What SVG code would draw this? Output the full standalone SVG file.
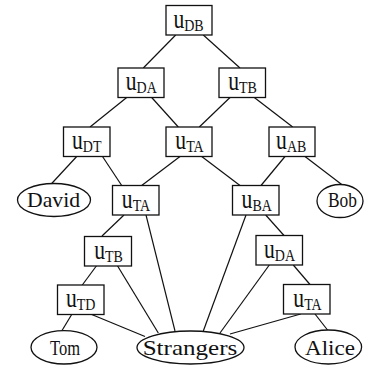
<svg xmlns="http://www.w3.org/2000/svg" width="368" height="368" viewBox="0 0 368 368">
<style>
rect.n{fill:#fff;stroke:#111;stroke-width:1.3}
ellipse.e{fill:#fff;stroke:#111;stroke-width:1.3}
.c line{stroke:#111;stroke-width:1.2}
text.u{font-family:"Liberation Serif",serif;font-size:27px;fill:#111;text-anchor:middle}
tspan.s{font-size:17.5px}
text.t{font-family:"Liberation Serif",serif;font-size:22px;fill:#111;text-anchor:middle}
</style>
<rect width="368" height="368" fill="#fff"/>
<g class="c" id="connectors">
<line x1="175.7" y1="35" x2="143.3" y2="68"/>
<line x1="203.3" y1="35" x2="240" y2="68"/>
<line x1="126.7" y1="97.5" x2="90" y2="127"/>
<line x1="151.7" y1="97.5" x2="178.3" y2="127"/>
<line x1="230" y1="97.5" x2="199.3" y2="127"/>
<line x1="254.3" y1="97.5" x2="292.7" y2="127"/>
<line x1="76.7" y1="156.5" x2="51.7" y2="183.5"/>
<line x1="102.5" y1="156.5" x2="121.7" y2="185.5"/>
<line x1="180" y1="156.5" x2="141.7" y2="185.5"/>
<line x1="201.7" y1="156.5" x2="240" y2="185.5"/>
<line x1="285" y1="156.5" x2="261" y2="185.5"/>
<line x1="305" y1="156.5" x2="341.7" y2="184.5"/>
<line x1="124" y1="215" x2="102" y2="236"/>
<line x1="146" y1="215" x2="175" y2="331"/>
<line x1="246" y1="215" x2="203.3" y2="331"/>
<line x1="265.7" y1="215" x2="284" y2="235.5"/>
<line x1="96.7" y1="265.5" x2="82.3" y2="285"/>
<line x1="117.3" y1="265.5" x2="158.3" y2="333"/>
<line x1="269.3" y1="265" x2="220" y2="333"/>
<line x1="293.3" y1="265" x2="310" y2="284.5"/>
<line x1="71.7" y1="314.5" x2="61.7" y2="331"/>
<line x1="91.7" y1="314.5" x2="145" y2="336.5"/>
<line x1="300.7" y1="314" x2="230" y2="334"/>
<line x1="315" y1="314" x2="328.3" y2="331"/>
</g>
<g id="uDB"><rect class="n" x="166" y="5.5" width="46" height="29.5"/><text class="u" transform="translate(188.5 27.5) scale(0.8 1)">u<tspan class="s" dy="3.3">DB</tspan></text></g>
<g id="uDA1"><rect class="n" x="118" y="68" width="46" height="29.5"/><text class="u" transform="translate(141.3 90) scale(0.8 1)">u<tspan class="s" dy="3.3">DA</tspan></text></g>
<g id="uTB1"><rect class="n" x="219" y="68" width="46.5" height="29.5"/><text class="u" transform="translate(242.6 90) scale(0.8 1)">u<tspan class="s" dy="3.3">TB</tspan></text></g>
<g id="uDT"><rect class="n" x="63.5" y="127" width="46.5" height="29.5"/><text class="u" transform="translate(86.7 149) scale(0.8 1)">u<tspan class="s" dy="3.3">DT</tspan></text></g>
<g id="uTA1"><rect class="n" x="166" y="127" width="46" height="29.5"/><text class="u" transform="translate(189.5 149) scale(0.8 1)">u<tspan class="s" dy="3.3">TA</tspan></text></g>
<g id="uAB"><rect class="n" x="269" y="127" width="46" height="29.5"/><text class="u" transform="translate(291.2 149) scale(0.8 1)">u<tspan class="s" dy="3.3">AB</tspan></text></g>
<g id="uTA2"><rect class="n" x="112.5" y="185.5" width="46.5" height="29.5"/><text class="u" transform="translate(136 207.5) scale(0.8 1)">u<tspan class="s" dy="3.3">TA</tspan></text></g>
<g id="uBA"><rect class="n" x="232.5" y="185.5" width="46.5" height="29.5"/><text class="u" transform="translate(256.7 207.5) scale(0.8 1)">u<tspan class="s" dy="3.3">BA</tspan></text></g>
<g id="uTB2"><rect class="n" x="84.5" y="236.5" width="47" height="29.5"/><text class="u" transform="translate(108.5 258.5) scale(0.8 1)">u<tspan class="s" dy="3.3">TB</tspan></text></g>
<g id="uDA2"><rect class="n" x="256" y="235.5" width="46.5" height="29.5"/><text class="u" transform="translate(279.5 257.5) scale(0.8 1)">u<tspan class="s" dy="3.3">DA</tspan></text></g>
<g id="uTD"><rect class="n" x="57.5" y="285" width="46.5" height="29.5"/><text class="u" transform="translate(80.7 307) scale(0.8 1)">u<tspan class="s" dy="3.3">TD</tspan></text></g>
<g id="uTA3"><rect class="n" x="283.5" y="284.5" width="46.5" height="29.5"/><text class="u" transform="translate(307.5 306.5) scale(0.8 1)">u<tspan class="s" dy="3.3">TA</tspan></text></g>
<g id="David"><ellipse class="e" cx="54" cy="200" rx="36.5" ry="16.5"/><text class="t" x="53.5" y="206.5" textLength="53" lengthAdjust="spacingAndGlyphs">David</text></g>
<g id="Bob"><ellipse class="e" cx="340" cy="201" rx="23" ry="16.5"/><text class="t" x="342.5" y="206.5" textLength="29" lengthAdjust="spacingAndGlyphs">Bob</text></g>
<g id="Tom"><ellipse class="e" cx="64" cy="347.3" rx="33" ry="16.7"/><text class="t" x="65" y="355" textLength="30" lengthAdjust="spacingAndGlyphs">Tom</text></g>
<g id="Strangers"><ellipse class="e" cx="190.5" cy="347.5" rx="53.5" ry="16.5"/><text class="t" x="190" y="354.5" textLength="94.6" lengthAdjust="spacingAndGlyphs">Strangers</text></g>
<g id="Alice"><ellipse class="e" cx="328.3" cy="347" rx="33.3" ry="17"/><text class="t" x="330" y="355" textLength="50" lengthAdjust="spacingAndGlyphs">Alice</text></g>
</svg>
